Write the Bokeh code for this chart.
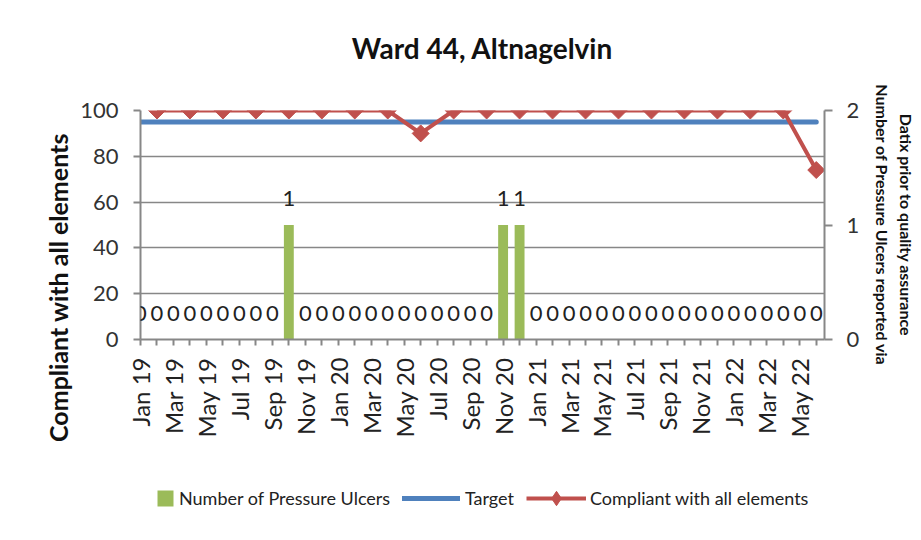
import math
from bokeh.plotting import figure
from bokeh.layouts import column
from bokeh.models import (ColumnDataSource, Range1d, LinearAxis, FixedTicker,
                          LabelSet, Legend, LegendItem, Title)
from bokeh.core.properties import value
from bokeh.embed import file_html
from bokeh.resources import INLINE

# ---------------- data ----------------
months = ["Jan 19", "Feb 19", "Mar 19", "Apr 19", "May 19", "Jun 19", "Jul 19", "Aug 19",
          "Sep 19", "Oct 19", "Nov 19", "Dec 19",
          "Jan 20", "Feb 20", "Mar 20", "Apr 20", "May 20", "Jun 20", "Jul 20", "Aug 20",
          "Sep 20", "Oct 20", "Nov 20", "Dec 20",
          "Jan 21", "Feb 21", "Mar 21", "Apr 21", "May 21", "Jun 21", "Jul 21", "Aug 21",
          "Sep 21", "Oct 21", "Nov 21", "Dec 21",
          "Jan 22", "Feb 22", "Mar 22", "Apr 22", "May 22", "Jun 22"]

pressure_ulcers = [0, 0, 0, 0, 0, 0, 0, 0, 0, 1, 0, 0,
                   0, 0, 0, 0, 0, 0, 0, 0, 0, 0, 1, 1,
                   0, 0, 0, 0, 0, 0, 0, 0, 0, 0, 0, 0,
                   0, 0, 0, 0, 0, 0]

compliance_months = ["Feb 19", "Apr 19", "Jun 19", "Aug 19", "Oct 19", "Dec 19",
                     "Feb 20", "Apr 20", "Jun 20", "Aug 20", "Oct 20", "Dec 20",
                     "Feb 21", "Apr 21", "Jun 21", "Aug 21", "Oct 21", "Dec 21",
                     "Feb 22", "Apr 22", "Jun 22"]
compliance = [100, 100, 100, 100, 100, 100,
              100, 100, 90, 100, 100, 100,
              100, 100, 100, 100, 100, 100,
              100, 100, 74]

target_value = 95

left_ticks = [0, 20, 40, 60, 80, 100]
right_ticks = [0, 1, 2]
tick_labels = {i: (m if i % 2 == 0 else "") for i, m in enumerate(months)}

title_text = "Ward 44, Altnagelvin"
left_title = "% Compliant with all elements"
right_title = ["Number of Pressure Ulcers reported via", "Datix prior to quality assurance"]
legend_labels = ["Number of Pressure Ulcers", "Target", "Compliant with all elements"]

# ---------------- styling ----------------
FONT = "Lato"
GRID = "#878787"
TXT = "#222222"
GREEN = "#9BBB59"
BLUE = "#4F81BD"
RED = "#C0504D"

month_idx = list(range(len(months)))
bar_src = ColumnDataSource(dict(
    x=month_idx,
    count=pressure_ulcers,
    label=[str(v) for v in pressure_ulcers],
))
target_src = ColumnDataSource(dict(x=month_idx, y=[target_value for _ in months]))
comp_src = ColumnDataSource(dict(
    x=[months.index(m) for m in compliance_months],
    y=compliance,
))

p = figure(frame_width=684, frame_height=229, output_backend="svg", toolbar_location=None,
           x_range=Range1d(0, 41.5), y_range=Range1d(0, 100),
           min_border_left=140, min_border_right=97,
           min_border_top=110, min_border_bottom=110)
p.extra_y_ranges = {"count": Range1d(0, 2)}
p.outline_line_color = None

xa = p.below[0]
ya = p.left[0]

# grid
p.xgrid.visible = False
p.ygrid.ticker = FixedTicker(ticks=left_ticks)
p.ygrid.grid_line_color = GRID
p.ygrid.grid_line_width = 1.6

def style_axis(ax, tick_out, standoff, color, size="22px"):
    ax.axis_line_color = GRID
    ax.axis_line_width = 2
    ax.major_tick_line_color = GRID
    ax.major_tick_line_width = 2
    ax.major_tick_in = 0
    ax.major_tick_out = tick_out
    ax.minor_tick_line_color = None
    ax.major_label_text_font = FONT
    ax.major_label_text_font_size = size
    ax.major_label_text_color = color
    ax.major_label_standoff = standoff

def label_only_axis(text, side, standoff, size, y_range_name=None):
    kw = {} if y_range_name is None else {"y_range_name": y_range_name}
    ax = LinearAxis(ticker=FixedTicker(ticks=[]), **kw)
    ax.axis_line_color = None
    ax.major_tick_line_color = None
    ax.minor_tick_line_color = None
    ax.axis_label = text
    ax.axis_label_standoff = standoff
    ax.axis_label_text_font = FONT
    ax.axis_label_text_font_style = "bold"
    ax.axis_label_text_font_size = size
    ax.axis_label_text_color = "#111111"
    p.add_layout(ax, side)

# left axis
ya.ticker = FixedTicker(ticks=left_ticks)
style_axis(ya, 7, 15, "#333333")

# bottom axis
xa.ticker = FixedTicker(ticks=month_idx)
xa.major_label_overrides = tick_labels
xa.major_label_orientation = math.pi / 2
style_axis(xa, 6, 12, TXT, "24px")

# chart title (label of a tick-less axis above the plot)
label_only_axis(title_text, "above", 46, "28px")

# right axis
ra = LinearAxis(y_range_name="count", ticker=FixedTicker(ticks=right_ticks))
style_axis(ra, 8, 14, "#333333")
p.add_layout(ra, "right")

# right axis title, two lines
label_only_axis(right_title[0], "right", 10, "16px", "count")
label_only_axis(right_title[1], "right", 2, "16px", "count")

# left axis title
p.add_layout(Title(text=left_title, align="left", offset=-129,
                   text_font=FONT, text_font_style="bold",
                   text_font_size="25px", text_color="#111111"), "left")

# glyphs
p.vbar(x="x", top="count", width=0.6, source=bar_src, y_range_name="count",
       fill_color=GREEN, line_color=None)
p.line(x="x", y="y", source=target_src, line_color=BLUE, line_width=5, line_cap="round")
p.line(x="x", y="y", source=comp_src, line_color=RED, line_width=4, line_join="round")
p.scatter(x="x", y="y", source=comp_src, marker="square", angle=math.pi / 4,
          size=12, fill_color=RED, line_color=RED)

p.add_layout(LabelSet(x="x", y="count", text="label", source=bar_src, y_range_name="count",
                      text_align="center", text_baseline="alphabetic", y_offset=19,
                      text_font=value(FONT), text_font_size="22px", text_color=TXT))

# ---------------- legend strip below the chart ----------------
lf = figure(frame_width=684, frame_height=62, output_backend="svg", toolbar_location=None,
            x_range=Range1d(0, 1), y_range=Range1d(0, 1),
            x_axis_location=None, y_axis_location=None,
            min_border_left=140, min_border_right=97,
            min_border_top=0, min_border_bottom=0)
lf.grid.visible = False
lf.outline_line_color = None

# legend glyph renderers (hidden; they only supply the legend swatches)
lg_bar = lf.vbar(x="x", top="count", width=0.6, source=bar_src,
                 fill_color=GREEN, line_color=None, visible=False)
lg_target = lf.line(x="x", y="y", source=target_src, line_color=BLUE, line_width=5,
                    line_cap="round", visible=False)
lg_line = lf.line(x="x", y="y", source=comp_src, line_color=RED, line_width=4,
                  visible=False)
lg_mark = lf.scatter(x="x", y="y", source=comp_src, marker="diamond",
                     fill_color=RED, line_color=RED, visible=False)

def make_legend(label, renderers, loc, gw, gh, standoff):
    lg = Legend(items=[LegendItem(label=label, renderers=renderers)], location=loc,
                orientation="horizontal", glyph_width=gw, glyph_height=gh,
                label_standoff=standoff, padding=0, margin=0, spacing=0,
                border_line_color=None, background_fill_alpha=0,
                label_text_font=FONT, label_text_font_size="18px",
                label_text_color=TXT)
    lf.add_layout(lg)

make_legend(legend_labels[0], [lg_bar], (15, 2), 20, 20, 4)
make_legend(legend_labels[1], [lg_target], (262, 2), 58, 20, 5)
make_legend(legend_labels[2], [lg_line, lg_mark], (386, -5), 60, 36, 4)

layout = column(p, lf)
open("out.html", "w").write(file_html(layout, INLINE))
